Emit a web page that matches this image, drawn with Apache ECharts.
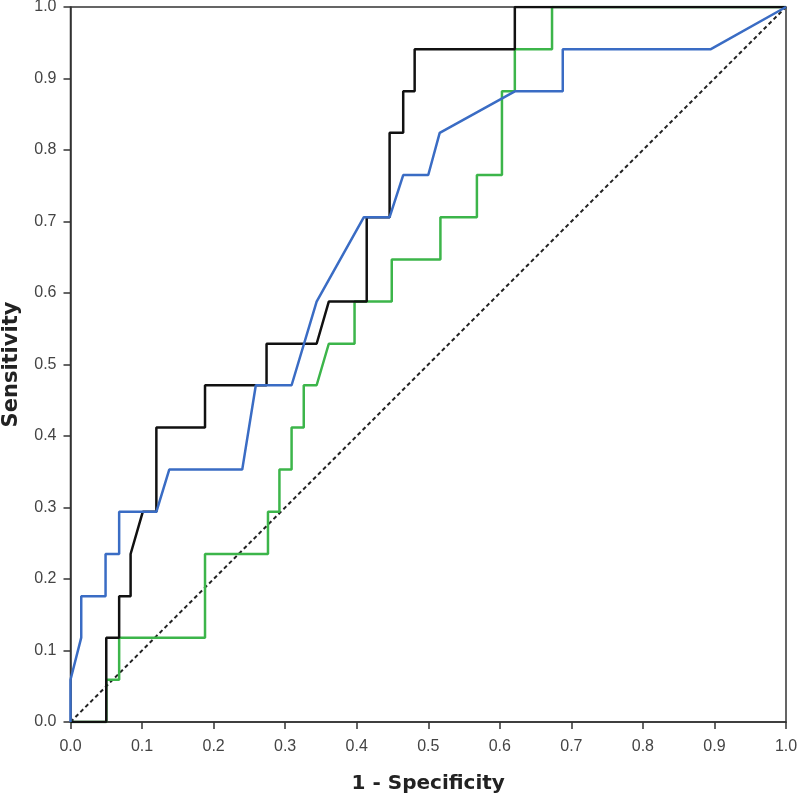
<!DOCTYPE html>
<html><head><meta charset="utf-8">
<script src="https://cdn.jsdelivr.net/npm/echarts@6/dist/echarts.min.js"></script>
<style>html,body{margin:0;padding:0;background:#fff}#c{width:800px;height:803px}</style>
</head><body><div id="c"></div>
<script>
var tickLabels = ['0.0','0.1','0.2','0.3','0.4','0.5','0.6','0.7','0.8','0.9','1.0'];
var blackX = [0,0.05,0.05,0.068,0.068,0.084,0.084,0.101,0.12,0.12,0.188,0.188,0.274,0.274,0.344,0.361,0.414,0.414,0.446,0.446,0.465,0.465,0.481,0.481,0.621,0.621,1];
var blackY = [0,0,0.118,0.118,0.176,0.176,0.235,0.294,0.294,0.412,0.412,0.471,0.471,0.529,0.529,0.588,0.588,0.706,0.706,0.824,0.824,0.882,0.882,0.941,0.941,1,1];
var blueX = [0,0,0.015,0.015,0.049,0.049,0.068,0.068,0.12,0.138,0.24,0.259,0.309,0.344,0.41,0.446,0.465,0.5,0.516,0.621,0.688,0.688,0.895,1];
var blueY = [0,0.059,0.118,0.176,0.176,0.235,0.235,0.294,0.294,0.353,0.353,0.471,0.471,0.588,0.706,0.706,0.765,0.765,0.824,0.882,0.882,0.941,0.941,1];
var greenX = [0,0.05,0.05,0.068,0.068,0.188,0.188,0.276,0.276,0.292,0.292,0.309,0.309,0.326,0.326,0.344,0.361,0.397,0.397,0.449,0.449,0.517,0.517,0.568,0.568,0.603,0.603,0.621,0.621,0.673,0.673,1];
var greenY = [0,0,0.059,0.059,0.118,0.118,0.235,0.235,0.294,0.294,0.353,0.353,0.412,0.412,0.471,0.471,0.529,0.529,0.588,0.588,0.647,0.647,0.706,0.706,0.765,0.765,0.882,0.882,0.941,0.941,1,1];
var refX = [0,1];
var refY = [0,1];

function pairs(xs, ys){ return xs.map(function(x,i){ return [x, ys[i]]; }); }

var chart = echarts.init(document.getElementById('c'), null, {renderer:'canvas'});
var FONT = 'DejaVu Sans, Liberation Sans, Arial, sans-serif';
var TFONT = 'Liberation Sans, Arial, sans-serif';
var axisCommon = {
  type:'value', min:0, max:1, interval:0.1,
  axisLine:{show:true, lineStyle:{color:'#333', width:1.5}},
  axisTick:{show:true, inside:false, length:7, lineStyle:{color:'#333', width:1.5}},
  splitLine:{show:false},
  axisLabel:{color:'#444', fontSize:16, fontFamily:TFONT,
    formatter:function(v){ return tickLabels[Math.round(v*10)]; }},
  nameLocation:'middle'
};
chart.setOption({
  animation:false,
  backgroundColor:'#fff',
  grid:{left:70.5, right:14, top:7, bottom:81, show:true, borderColor:'#333', borderWidth:1.5,
    backgroundColor:'transparent', containLabel:false, outerBoundsMode:'none'},
  xAxis: Object.assign({}, axisCommon, {name:'1 - Specificity', nameGap:52,
    nameTextStyle:{color:'#222', fontSize:20, fontWeight:'bold', fontFamily:FONT},
    axisLabel:Object.assign({}, axisCommon.axisLabel, {margin:17})}),
  yAxis: Object.assign({}, axisCommon, {name:'Sensitivity', nameGap:48,
    nameTextStyle:{color:'#222', fontSize:21, fontWeight:'bold', fontFamily:FONT},
    axisLabel:Object.assign({}, axisCommon.axisLabel, {margin:14, padding:[5,0,0,0]})}),
  series:[
    {type:'line', data:pairs(refX, refY), symbol:'none', silent:true,
     lineStyle:{color:'#222', width:2, type:[4,3]}},
    {type:'line', data:pairs(greenX, greenY), symbol:'none', lineStyle:{color:'#3cb54a', width:2.5}},
    {type:'line', data:pairs(blackX, blackY), symbol:'none', lineStyle:{color:'#111', width:2.5}},
    {type:'line', data:pairs(blueX, blueY), symbol:'none', lineStyle:{color:'#3a6cc4', width:2.5}}
  ]
});
</script></body></html>
